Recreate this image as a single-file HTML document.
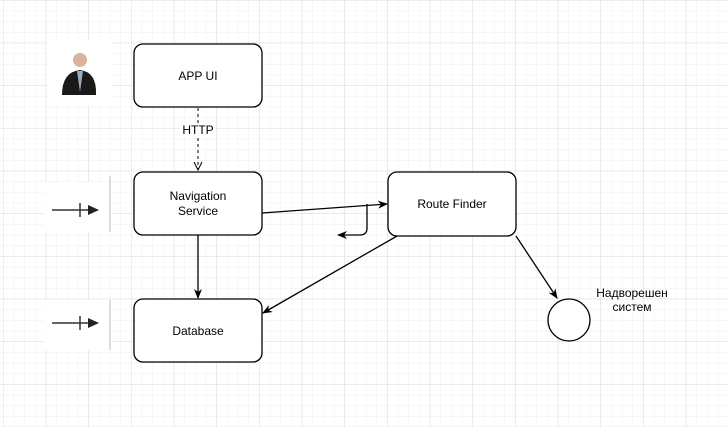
<!DOCTYPE html>
<html><head><style>body{margin:0;background:#fff}svg{display:block}text{font-family:"Liberation Sans",sans-serif;font-size:12px;fill:#000}</style></head><body>
<svg width="728" height="427" viewBox="0 0 728 427" xmlns="http://www.w3.org/2000/svg">
<defs>
<pattern id="mn" width="10.67" height="10.67" patternUnits="userSpaceOnUse" x="3" y="0"><path d="M0 0H10.67M0 0V10.67" stroke="#eee" stroke-width="1" fill="none"/></pattern>
<pattern id="mj" width="42.67" height="42.67" patternUnits="userSpaceOnUse" x="3" y="0"><path d="M0 0H42.67M0 0V42.67" stroke="#ddd" stroke-width="1" fill="none"/></pattern>
<marker id="a" markerWidth="10" markerHeight="10" refX="9" refY="5" orient="auto" markerUnits="userSpaceOnUse"><path d="M0 1L10 5L0 9L3 5Z" fill="#000"/></marker>
<marker id="o" markerWidth="10" markerHeight="10" refX="9" refY="5" orient="auto" markerUnits="userSpaceOnUse"><path d="M1 1L9 5L1 9" fill="none" stroke="#000"/></marker>
</defs>
<rect width="728" height="427" fill="url(#mn)"/>
<rect width="728" height="427" fill="url(#mj)"/>
<rect x="47" y="40" width="64" height="66" fill="#fff"/>
<circle cx="80" cy="60" r="7" fill="#d9b49a"/>
<path d="M62 95Q62 72 80 70Q97 72 96 95Z" fill="#1a1a1a"/>
<path d="M77 71L80 92L83 71Z" fill="#9ab"/>
<rect x="44" y="182" width="66" height="50" fill="#fff"/><line x1="110" y1="176" x2="110" y2="232" stroke="#bbb"/>
<line x1="52" y1="210" x2="95" y2="210" stroke="#333" stroke-width="1.5"/><line x1="80" y1="203" x2="80" y2="217" stroke="#333" stroke-width="1.5"/><path d="M88 205L99 210L88 215Z" fill="#222"/>
<rect x="44" y="300" width="66" height="50" fill="#fff"/><line x1="110" y1="300" x2="110" y2="350" stroke="#bbb"/>
<line x1="52" y1="323" x2="95" y2="323" stroke="#333" stroke-width="1.5"/><line x1="80" y1="316" x2="80" y2="330" stroke="#333" stroke-width="1.5"/><path d="M88 318L99 323L88 328Z" fill="#222"/>
<g fill="#fff" stroke="#000" stroke-width="1.3">
<rect x="134" y="44" width="128" height="63" rx="9"/>
<rect x="134" y="172" width="128" height="63" rx="9"/>
<rect x="134" y="299" width="128" height="63" rx="9"/>
<rect x="388" y="172" width="128" height="64" rx="9"/>
<circle cx="569" cy="320" r="21"/>
</g>
<line x1="198" y1="108" x2="198" y2="170" stroke="#000" stroke-dasharray="3 3" marker-end="url(#o)"/>
<rect x="180" y="123" width="36" height="14" fill="#fff"/>
<text x="198" y="134" text-anchor="middle">HTTP</text>
<g stroke="#000" stroke-width="1.3" fill="none">
<line x1="198" y1="235" x2="198" y2="298" marker-end="url(#a)"/>
<line x1="262" y1="213" x2="387" y2="204" marker-end="url(#a)"/>
<path d="M367 204V228Q367 235 360 235H338" marker-end="url(#a)"/>
<line x1="397" y1="236" x2="263" y2="313" marker-end="url(#a)"/>
<line x1="516" y1="236" x2="557" y2="298" marker-end="url(#a)"/>
</g>
<text x="198" y="80" text-anchor="middle">APP UI</text>
<text x="198" y="200" text-anchor="middle">Navigation</text>
<text x="198" y="215" text-anchor="middle">Service</text>
<text x="198" y="335" text-anchor="middle">Database</text>
<text x="452" y="208" text-anchor="middle">Route Finder</text>
<text x="632" y="297" text-anchor="middle">Надворешен</text>
<text x="632" y="311" text-anchor="middle">систем</text>
</svg>
</body></html>
